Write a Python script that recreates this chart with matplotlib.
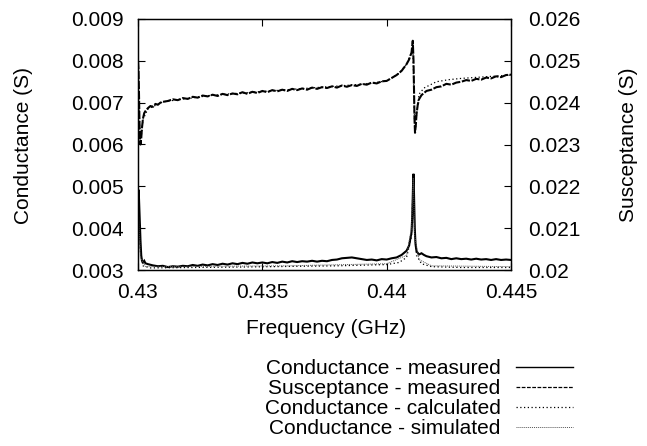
import matplotlib
matplotlib.use("Agg")
import matplotlib.pyplot as plt
from matplotlib.lines import Line2D

# ---------------- data ----------------
cond_meas_x = [0.43000, 0.43002, 0.43004, 0.43007, 0.43010, 0.43013, 0.43016, 0.43020, 0.43025, 0.43030,
               0.4304, 0.4306, 0.4308, 0.4310, 0.4312, 0.4314, 0.4316, 0.4318, 0.4320, 0.4322,
               0.4324, 0.4326, 0.4328, 0.4330, 0.4332, 0.4334, 0.4336, 0.4338, 0.4340, 0.4342,
               0.4344, 0.4346, 0.4348, 0.4350, 0.4352, 0.4354, 0.4356, 0.4358, 0.4360, 0.4362,
               0.4364, 0.4366, 0.4368, 0.4370, 0.4372, 0.4374, 0.4376, 0.4378, 0.4380, 0.4382,
               0.4384, 0.4386, 0.4388, 0.4390, 0.4392, 0.4394, 0.4396, 0.4398, 0.4400, 0.4402,
               0.4404, 0.4406, 0.4408, 0.4409, 0.4410, 0.44103, 0.44106, 0.44108, 0.44110, 0.44113,
               0.44116, 0.4412, 0.4413, 0.4414, 0.4415, 0.4416, 0.4418, 0.4420, 0.4422, 0.4424,
               0.4426, 0.4428, 0.4430, 0.4432, 0.4434, 0.4436, 0.4438, 0.4440, 0.4442, 0.4444,
               0.4446, 0.4448, 0.4450]
cond_meas_y = [0.00330, 0.00492, 0.00470, 0.00420, 0.00370, 0.00335, 0.00322, 0.00318, 0.00322, 0.00316,
               0.00314, 0.00311, 0.00309, 0.00310, 0.00307, 0.00309, 0.00308, 0.00310, 0.00309, 0.00312,
               0.00310, 0.00313, 0.00311, 0.00314, 0.00312, 0.00315, 0.00313, 0.00316, 0.00314, 0.00317,
               0.00315, 0.00318, 0.00316, 0.00318, 0.00316, 0.00319, 0.00317, 0.00320, 0.00318, 0.00321,
               0.00319, 0.00321, 0.00320, 0.00322, 0.00320, 0.00322, 0.00321, 0.00324, 0.00325, 0.00328,
               0.00329, 0.00330, 0.00328, 0.00326, 0.00324, 0.00325, 0.00323, 0.00326, 0.00325, 0.00328,
               0.00330, 0.00336, 0.00346, 0.00358, 0.00390, 0.00430, 0.00500, 0.00530, 0.00480, 0.00400,
               0.00362, 0.00345, 0.00337, 0.00340, 0.00336, 0.00333, 0.00330, 0.00331, 0.00328, 0.00329,
               0.00326, 0.00328, 0.00326, 0.00327, 0.00325, 0.00327, 0.00325, 0.00326, 0.00324, 0.00326,
               0.00324, 0.00325, 0.00324]

sus_meas_x = [0.43000, 0.43002, 0.43004, 0.43006, 0.43008, 0.43010, 0.43013, 0.43016, 0.43020, 0.43025,
              0.43030, 0.43040, 0.43050, 0.43060, 0.43070, 0.43080, 0.4309, 0.4310, 0.4312, 0.4314,
              0.4316, 0.4318, 0.4320, 0.4322, 0.4324, 0.4326, 0.4328, 0.4330, 0.4332, 0.4334,
              0.4336, 0.4338, 0.4340, 0.4342, 0.4344, 0.4346, 0.4348, 0.4350, 0.4352, 0.4354,
              0.4356, 0.4358, 0.4360, 0.4362, 0.4364, 0.4366, 0.4368, 0.4370, 0.4372, 0.4374,
              0.4376, 0.4378, 0.4380, 0.4382, 0.4384, 0.4386, 0.4388, 0.4390, 0.4392, 0.4394,
              0.4396, 0.4398, 0.4400, 0.4402, 0.4404, 0.4406, 0.4407, 0.4408, 0.4409, 0.4410,
              0.44105, 0.44108, 0.44110, 0.44112, 0.44114, 0.44117, 0.4412, 0.44125, 0.4413, 0.4414,
              0.4415, 0.4416, 0.4418, 0.4420, 0.4422, 0.4424, 0.4426, 0.4428, 0.4430, 0.4432,
              0.4434, 0.4436, 0.4438, 0.4440, 0.4442, 0.4444, 0.4446, 0.4448, 0.4450]
sus_meas_y = [0.02500, 0.02480, 0.02420, 0.02350, 0.02310, 0.02300, 0.02315, 0.02340, 0.02362, 0.02375,
              0.02380, 0.02387, 0.02392, 0.02390, 0.02397, 0.02395, 0.02400, 0.02402, 0.02404, 0.02408,
              0.02406, 0.02411, 0.02409, 0.02414, 0.02412, 0.02417, 0.02415, 0.02419, 0.02416, 0.02421,
              0.02418, 0.02422, 0.02420, 0.02425, 0.02421, 0.02426, 0.02423, 0.02428, 0.02425, 0.02430,
              0.02427, 0.02431, 0.02428, 0.02433, 0.02430, 0.02434, 0.02431, 0.02436, 0.02433, 0.02437,
              0.02435, 0.02439, 0.02436, 0.02441, 0.02438, 0.02442, 0.02440, 0.02445, 0.02443, 0.02448,
              0.02446, 0.02451, 0.02452, 0.02459, 0.02466, 0.02476, 0.02484, 0.02492, 0.02503, 0.02520,
              0.02548, 0.02500, 0.02430, 0.02360, 0.02328, 0.02345, 0.02372, 0.02395, 0.02408, 0.02418,
              0.02423, 0.02428, 0.02431, 0.02437, 0.02439, 0.02445, 0.02443, 0.02448, 0.02450, 0.02454,
              0.02452, 0.02457, 0.02455, 0.02460, 0.02458, 0.02463, 0.02461, 0.02466, 0.02467]

sus_calc_x = [0.4300, 0.43004, 0.43008, 0.4301, 0.4302, 0.4304, 0.4310, 0.4330, 0.4360, 0.4390,
              0.4400, 0.4405, 0.4408, 0.4410, 0.44105, 0.44112, 0.44115, 0.4412, 0.4413, 0.4415,
              0.4420, 0.4425, 0.4430, 0.4440, 0.4450]
sus_calc_y = [0.0250, 0.0240, 0.0231, 0.0230, 0.0236, 0.02385, 0.02402, 0.02418, 0.02431, 0.02444,
              0.02452, 0.02470, 0.02492, 0.02520, 0.02545, 0.0236, 0.0233, 0.0237, 0.0242, 0.02435,
              0.02450, 0.02455, 0.02458, 0.02462, 0.02466]

cond_calc_x = [0.4300, 0.43003, 0.4301, 0.4302, 0.4305, 0.4340, 0.4380, 0.4400, 0.4405, 0.4408,
               0.4410, 0.44107, 0.44112, 0.4412, 0.4414, 0.4418, 0.4430, 0.4450]
cond_calc_y = [0.0048, 0.0045, 0.0034, 0.0031, 0.00305, 0.00307, 0.00310, 0.00313, 0.00318, 0.00330,
               0.00380, 0.00525, 0.00400, 0.00335, 0.00315, 0.00308, 0.00306, 0.00306]

cond_sim_x = [0.4300, 0.4301, 0.4303, 0.4360, 0.4400, 0.4408, 0.4410, 0.44107, 0.44113, 0.4413,
              0.4418, 0.4450]
cond_sim_y = [0.0046, 0.0033, 0.00308, 0.00310, 0.00315, 0.00335, 0.00400, 0.00520, 0.00380, 0.00325,
              0.00310, 0.00308]

x_ticks = [0.43, 0.435, 0.44, 0.445]
x_tick_labels = ["0.43", "0.435", "0.44", "0.445"]
y1_ticks = [0.003, 0.004, 0.005, 0.006, 0.007, 0.008, 0.009]
y1_tick_labels = ["0.003", "0.004", "0.005", "0.006", "0.007", "0.008", "0.009"]
y2_ticks = [0.020, 0.021, 0.022, 0.023, 0.024, 0.025, 0.026]
y2_tick_labels = ["0.02", "0.021", "0.022", "0.023", "0.024", "0.025", "0.026"]

legend_labels = ["Conductance - measured", "Susceptance - measured",
                 "Conductance - calculated", "Conductance - simulated"]

# ---------------- figure ----------------
plt.rcParams['font.family'] = ['Liberation Sans', 'DejaVu Sans']
FS = 15
W, H = 647, 446
fig = plt.figure(figsize=(W / 100, H / 100), dpi=100)
L, R, T, B = 138, 511, 19, 270
ax = fig.add_axes([L / W, 1 - B / H, (R - L) / W, (B - T) / H])
ax2 = ax.twinx()

lw = 0.9
ax.plot(cond_meas_x, cond_meas_y, color='black', lw=1.5, solid_joinstyle='miter')
ax.plot(cond_calc_x, cond_calc_y, color='black', lw=lw, linestyle=(0, (1, 2)))
ax.plot(cond_sim_x, cond_sim_y, color='#555555', lw=0.7, linestyle=(0, (1, 1)))
ax2.plot(sus_meas_x, sus_meas_y, color='black', lw=1.5, linestyle=(0, (4, 0.8)))
ax2.plot(sus_calc_x, sus_calc_y, color='black', lw=lw, linestyle=(0, (1, 2)))

ax.set_xlim(0.43, 0.445)
ax.set_ylim(0.003, 0.009)
ax2.set_ylim(0.020, 0.026)

ax.set_xticks(x_ticks)
ax.set_xticklabels(x_tick_labels)
ax.set_yticks(y1_ticks)
ax.set_yticklabels(y1_tick_labels)
ax2.set_yticks(y2_ticks)
ax2.set_yticklabels(y2_tick_labels)

ax.tick_params(axis='x', direction='in', length=5, width=0.8, top=True, bottom=True,
               labelsize=FS, pad=9)
ax.tick_params(axis='y', direction='in', length=5, width=0.8, left=True, right=False,
               labelsize=FS, pad=10.5)
ax2.tick_params(axis='y', direction='in', length=5, width=0.8, left=False, right=True,
                labelsize=FS, pad=12.5)
for a in (ax, ax2):
    for s in a.spines.values():
        s.set_linewidth(0.9)

fig.text(326 / W, 1 - 328 / H, "Frequency (GHz)", ha='center', va='center', fontsize=FS)
fig.text(24 / W, 1 - 145 / H, "Conductance (S)", ha='center', va='center', rotation=90, fontsize=FS)
fig.text(628 / W, 1 - 145 / H, "Susceptance (S)", ha='center', va='center', rotation=90, fontsize=FS)

handles = [Line2D([], [], color='black', lw=1.0),
           Line2D([], [], color='black', lw=0.9, linestyle=(0, (3, 1.2))),
           Line2D([], [], color='black', lw=0.9, linestyle=(0, (1, 2))),
           Line2D([], [], color='#555555', lw=0.7, linestyle=(0, (1, 1)))]
fig.legend(handles, legend_labels, loc='upper right', bbox_to_anchor=(573 / W, 1 - 359 / H),
           frameon=False, markerfirst=False, fontsize=FS, handlelength=2.75,
           handletextpad=0.72, labelspacing=0.05, borderpad=0, borderaxespad=0)

fig.savefig("out.png", dpi=100)
